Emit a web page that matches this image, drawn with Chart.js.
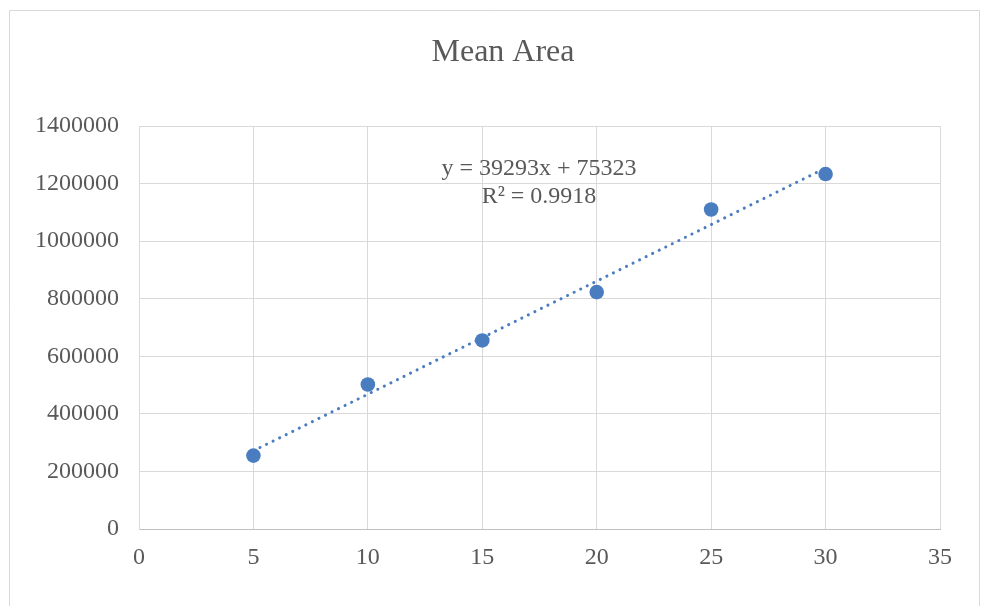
<!DOCTYPE html>
<html>
<head>
<meta charset="utf-8">
<script src="https://cdn.jsdelivr.net/npm/chart.js@4/dist/chart.umd.min.js"></script>
<style>
  html, body { margin: 0; padding: 0; background: #ffffff; }
  #wrap { width: 982px; height: 606px; position: relative; }
</style>
</head>
<body>
<div id="wrap"><canvas id="chart" width="982" height="606"></canvas></div>
<script>
// Sample sizes and the mean area measured at each
const sizes = [5, 10, 15, 20, 25, 30];
const meanArea = [255000, 502000, 655000, 823000, 1110000, 1233000];

// Linear trendline as reported in the chart label
const trendSlope = 39293;
const trendIntercept = 75323;
const trendR2 = '0.9918';
const trendFrom = 5;
const trendTo = 30;

// Axis ranges
const xTicks = [0, 5, 10, 15, 20, 25, 30, 35];
const yTicks = [0, 200000, 400000, 600000, 800000, 1000000, 1200000, 1400000];

const chartTitle = 'Mean Area';
const equationText = 'y = ' + trendSlope + 'x + ' + trendIntercept;
const r2Text = 'R\u00B2 = ' + trendR2;

const BLUE = '#4A7CC0';
const TEXT = '#595959';
const GRID = '#d9d9d9';
const FONT = "'Liberation Serif', 'Times New Roman', serif";

const points = sizes.map((x, i) => ({ x: x, y: meanArea[i] }));
const trend = [trendFrom, trendTo].map(x => ({ x: x, y: trendSlope * x + trendIntercept }));

// Outer frame, title and trendline equation
const decorations = {
  id: 'decorations',
  beforeDraw(chart) {
    const ctx = chart.ctx;
    ctx.save();
    ctx.fillStyle = '#ffffff';
    ctx.fillRect(0, 0, chart.width, chart.height);
    ctx.strokeStyle = GRID;
    ctx.lineWidth = 1;
    ctx.beginPath();
    ctx.moveTo(9.5, 610);
    ctx.lineTo(9.5, 10.5);
    ctx.lineTo(979.5, 10.5);
    ctx.lineTo(979.5, 610);
    ctx.stroke();
    ctx.restore();
  },
  afterDraw(chart) {
    const ctx = chart.ctx;
    ctx.save();
    ctx.fillStyle = TEXT;
    ctx.textAlign = 'center';
    ctx.textBaseline = 'alphabetic';
    ctx.font = '32px ' + FONT;
    ctx.fillText(chartTitle, 503, 61);
    ctx.font = '24px ' + FONT;
    ctx.fillText(equationText, 539, 175);
    ctx.fillText(r2Text, 539, 203);
    ctx.restore();
  }
};

new Chart(document.getElementById('chart'), {
  type: 'scatter',
  data: {
    datasets: [
      {
        label: 'Linear (Mean Area)',
        data: trend,
        showLine: true,
        borderColor: BLUE,
        borderWidth: 3,
        borderDash: [0.1, 7.2],
        borderCapStyle: 'round',
        pointRadius: 0,
        fill: false,
        order: 0
      },
      {
        label: chartTitle,
        data: points,
        backgroundColor: BLUE,
        borderColor: BLUE,
        pointRadius: 7.3,
        pointBorderWidth: 0,
        order: 1
      }
    ]
  },
  options: {
    responsive: false,
    animation: false,
    layout: { padding: { left: 0, top: 126, right: 42, bottom: 0 } },
    plugins: {
      legend: { display: false },
      title: { display: false },
      tooltip: { enabled: false }
    },
    scales: {
      x: {
        type: 'linear',
        min: xTicks[0],
        max: xTicks[xTicks.length - 1],
        afterBuildTicks(scale) { scale.ticks = xTicks.map(v => ({ value: v })); },
        afterFit(scale) { scale.height = 606 - 529; },
        grid: { color: GRID, lineWidth: 1, drawTicks: false },
        border: { color: '#bfbfbf', width: 1 },
        ticks: { color: TEXT, font: { family: FONT, size: 24 }, padding: 14, maxRotation: 0 }
      },
      y: {
        type: 'linear',
        min: yTicks[0],
        max: yTicks[yTicks.length - 1],
        afterBuildTicks(scale) { scale.ticks = yTicks.map(v => ({ value: v })); },
        afterFit(scale) { scale.width = 139; },
        grid: { color: GRID, lineWidth: 1, drawTicks: false },
        border: { color: GRID, width: 1 },
        ticks: { color: TEXT, font: { family: FONT, size: 24 }, padding: 20, callback: v => String(v) }
      }
    }
  },
  plugins: [decorations]
});
</script>
</body>
</html>
